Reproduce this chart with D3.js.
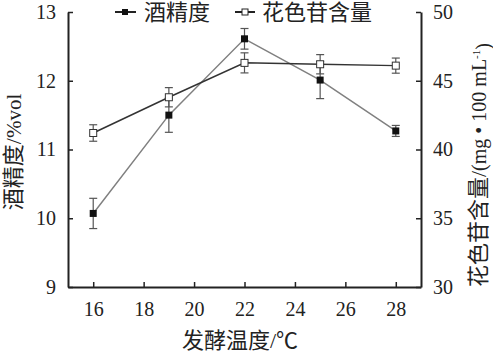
<!DOCTYPE html>
<html>
<head>
<meta charset="utf-8">
<script src="https://cdn.jsdelivr.net/npm/d3@7"></script>
<style>
  body { margin: 0; background: #fff; }
  text { font-family: "Liberation Serif", "Noto Sans CJK SC", serif; fill: #222; }
</style>
</head>
<body>
<svg id="chart"></svg>
<script>
// data
let temps = [16, 19, 22, 25, 28];
let alcohol = [10.07, 11.5, 12.61, 12.01, 11.27];
let alcoholErr = [0.22, 0.25, 0.15, 0.27, 0.08];
let antho = [41.2, 43.8, 46.3, 46.2, 46.1];
let anthoErr = [0.6, 0.7, 0.73, 0.7, 0.55];
let xTicks = [16, 18, 20, 22, 24, 26, 28];
let leftTicks = [9, 10, 11, 12, 13];
let rightTicks = [30, 35, 40, 45, 50];

let width = 493;
let height = 356;
let plotLeft = 68, plotRight = 421, plotTop = 12, plotBottom = 287;
let serif = '"Liberation Serif", "Noto Sans CJK SC", serif';
let cjkSize = '22px';
let latinSize = '20px';

let svg = d3.select('#chart')
  .attr('width', width)
  .attr('height', height);

let x = d3.scaleLinear().domain([15, 29]).range([plotLeft, plotRight]);
let yL = d3.scaleLinear().domain([9, 13]).range([plotBottom, plotTop]);
let yR = d3.scaleLinear().domain([30, 50]).range([plotBottom, plotTop]);

function styleAxis(g) {
  g.attr('font-family', null);
  g.select('.domain').attr('stroke', '#222').attr('stroke-width', 2);
  g.selectAll('.tick line').attr('stroke', '#222').attr('stroke-width', 1.5);
  g.selectAll('.tick text')
    .style('font-family', serif)
    .style('font-size', '20px')
    .attr('fill', '#222');
}

svg.append('g')
  .attr('transform', `translate(0,${plotBottom})`)
  .call(d3.axisBottom(x).tickValues(xTicks).tickFormat(d3.format('d'))
    .tickSizeInner(-5).tickSizeOuter(0).tickPadding(15))
  .call(styleAxis);

svg.append('g')
  .attr('transform', `translate(${plotLeft},0)`)
  .call(d3.axisLeft(yL).tickValues(leftTicks).tickFormat(d3.format('d'))
    .tickSizeInner(-5).tickSizeOuter(0).tickPadding(12))
  .call(styleAxis);

svg.append('g')
  .attr('transform', `translate(${plotRight},0)`)
  .call(d3.axisRight(yR).tickValues(rightTicks).tickFormat(d3.format('d'))
    .tickSizeInner(-5).tickSizeOuter(0).tickPadding(12))
  .call(styleAxis);

// lines
let alcPts = temps.map((t, i) => [x(t), yL(alcohol[i])]);
let antPts = temps.map((t, i) => [x(t), yR(antho[i])]);

svg.append('path').datum(alcPts)
  .attr('d', d3.line())
  .attr('fill', 'none')
  .attr('stroke', '#808080')
  .attr('stroke-width', 1.5);

svg.append('path').datum(antPts)
  .attr('d', d3.line())
  .attr('fill', 'none')
  .attr('stroke', '#333')
  .attr('stroke-width', 1.5);

// error bars
function errorBars(vals, errs, y) {
  let g = svg.append('g').attr('stroke', '#555').attr('stroke-width', 1.2);
  temps.forEach((t, i) => {
    let cx = x(t);
    let y1 = y(vals[i] + errs[i]);
    let y2 = y(vals[i] - errs[i]);
    g.append('line').attr('x1', cx).attr('x2', cx).attr('y1', y1).attr('y2', y2);
    g.append('line').attr('x1', cx - 4).attr('x2', cx + 4).attr('y1', y1).attr('y2', y1);
    g.append('line').attr('x1', cx - 4).attr('x2', cx + 4).attr('y1', y2).attr('y2', y2);
  });
}
errorBars(alcohol, alcoholErr, yL);
errorBars(antho, anthoErr, yR);

// markers
let s = 7;
svg.selectAll('.alc').data(alcPts).enter().append('rect')
  .attr('x', d => d[0] - s / 2).attr('y', d => d[1] - s / 2)
  .attr('width', s).attr('height', s)
  .attr('fill', '#111');

svg.selectAll('.ant').data(antPts).enter().append('rect')
  .attr('x', d => d[0] - s / 2).attr('y', d => d[1] - s / 2)
  .attr('width', s).attr('height', s)
  .attr('fill', '#fff').attr('stroke', '#333').attr('stroke-width', 1);

// legend
let lg = svg.append('g');
lg.append('line').attr('x1', 115).attr('x2', 136).attr('y1', 12).attr('y2', 12)
  .attr('stroke', '#222').attr('stroke-width', 2);
lg.append('rect').attr('x', 122).attr('y', 9).attr('width', 6).attr('height', 6).attr('fill', '#111');
lg.append('text').attr('x', 144).attr('y', 12).attr('dy', '0.36em')
  .style('font-size', cjkSize).text('酒精度');

lg.append('line').attr('x1', 235).attr('x2', 255).attr('y1', 12).attr('y2', 12)
  .attr('stroke', '#222').attr('stroke-width', 2);
lg.append('rect').attr('x', 242).attr('y', 9).attr('width', 6).attr('height', 6)
  .attr('fill', '#fff').attr('stroke', '#222').attr('stroke-width', 1);
lg.append('text').attr('x', 262).attr('y', 12).attr('dy', '0.36em')
  .style('font-size', cjkSize).text('花色苷含量');

// axis titles
let lt = svg.append('text')
  .attr('transform', 'translate(15,152) rotate(-90)')
  .attr('text-anchor', 'middle').attr('dy', '0.36em');
lt.append('tspan').style('font-size', cjkSize).text('酒精度/');
lt.append('tspan').style('font-size', '21px').text('%vol');

let rt = svg.append('text')
  .attr('transform', 'translate(480,287) rotate(-90)')
  .attr('text-anchor', 'start').attr('dy', '0.36em');
rt.append('tspan').style('font-size', cjkSize).text('花色苷含量/');
rt.append('tspan').style('font-size', latinSize).text('(mg • 100 mL');
rt.append('tspan').attr('dy', '-0.5em').style('font-size', '11px').text('-1');
rt.append('tspan').attr('dy', '0.5em').style('font-size', latinSize).text(')');

let xt = svg.append('text')
  .attr('x', 240).attr('y', 340).attr('dy', '0.36em')
  .attr('text-anchor', 'middle')
  .style('font-size', cjkSize);
xt.append('tspan').text('发酵温度/℃');
</script>
</body>
</html>
